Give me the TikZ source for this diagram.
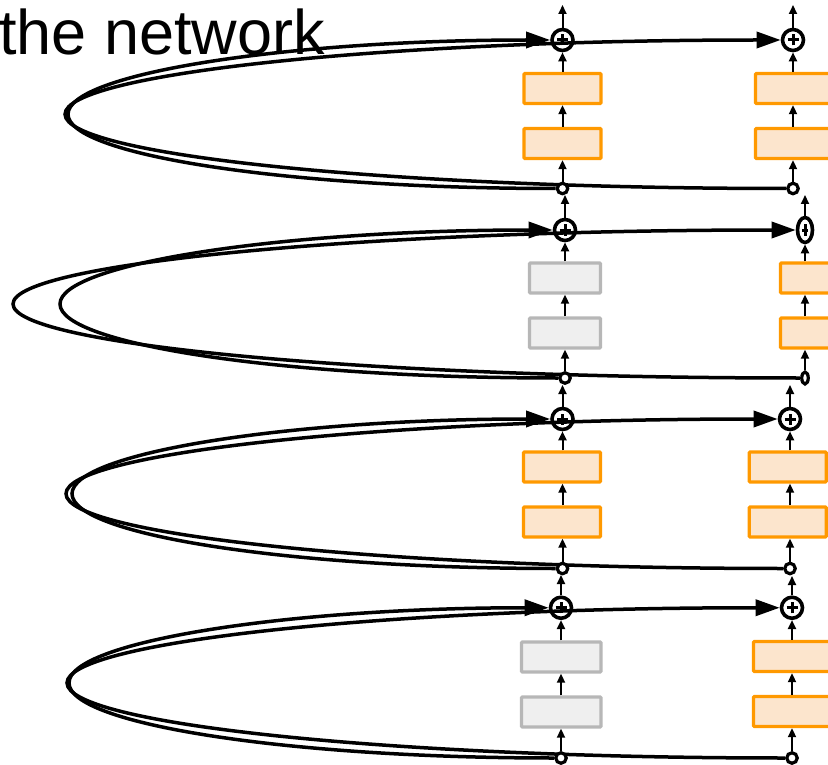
\documentclass[tikz,border=0pt]{standalone}
\usepackage{fontspec}
\setmainfont{Liberation Sans}
\usetikzlibrary{arrows.meta,shapes.geometric}
\definecolor{orangeline}{HTML}{FF9900}
\definecolor{orangefill}{HTML}{FCE5CD}
\definecolor{grayline}{HTML}{B7B7B7}
\definecolor{grayfill}{HTML}{EFEFEF}
\pgfdeclarelayer{bg}
\pgfsetlayers{bg,main}
\tikzset{
  obox/.style={draw=orangeline, fill=orangefill, line width=3.4pt, minimum width=77pt, minimum height=30pt, inner sep=0pt, rounded corners=1pt},
  gbox/.style={draw=grayline, fill=grayfill, line width=3.4pt, minimum width=71pt, minimum height=30pt, inner sep=0pt, rounded corners=1pt},
  plusnode/.style={circle, draw, line width=3.6pt, minimum size=21pt, inner sep=0pt,
    path picture={\draw[line width=3pt] ([xshift=-5.5pt]path picture bounding box.center) -- ([xshift=5.5pt]path picture bounding box.center);
                  \draw[line width=3pt] ([yshift=-5.5pt]path picture bounding box.center) -- ([yshift=5.5pt]path picture bounding box.center);}},
  plusell/.style={ellipse, draw, line width=3.6pt, minimum width=15pt, minimum height=25pt, inner sep=0pt,
    path picture={\draw[line width=3pt] ([xshift=-3pt]path picture bounding box.center) -- ([xshift=3pt]path picture bounding box.center);
                  \draw[line width=3pt] ([yshift=-5.5pt]path picture bounding box.center) -- ([yshift=5.5pt]path picture bounding box.center);}},
  tap/.style={circle, draw, fill=white, line width=3.2pt, minimum size=10.5pt, inner sep=0pt},
  tapell/.style={ellipse, draw, fill=white, line width=3.2pt, minimum width=6.5pt, minimum height=12pt, inner sep=0pt},
  flow/.style={-{Triangle[length=9pt,width=8pt]}, line width=2pt},
  skiparrow/.style={-{Triangle[length=24pt,width=16pt]}, line width=3.5pt},
}
\begin{document}
\begin{tikzpicture}[x=1pt,y=-1pt]
\useasboundingbox (0,0) rectangle (828,765);

\node[anchor=base west, inner sep=0pt, font=\fontsize{63}{63}\selectfont] (title) at (-1,55) {the network};

% ---------------- block 1 ----------------
\node[plusnode] (p11) at (562.5,40) {};
\node[obox] (u11) at (562.5,88.5) {};
\node[obox] (l11) at (562.5,143.5) {};
\node[tap] (b11) at (562.5,188.5) {};
\node[plusnode] (p12) at (793,40) {};
\node[obox] (u12) at (794,88.5) {};
\node[obox] (l12) at (794,143.5) {};
\node[tap] (b12) at (793,188.5) {};
\coordinate (t11) at (562.5,5);
\coordinate (t12) at (793,5);
\coordinate (L11) at (68,114.25);
\coordinate (L12) at (65,114.25);

% ---------------- block 2 ----------------
\node[plusnode] (p21) at (565,230) {};
\node[gbox] (u21) at (565,278) {};
\node[gbox] (l21) at (565,333) {};
\node[tap] (b21) at (565,378) {};
\node[plusell] (p22) at (805,230) {};
\node[obox] (u22) at (819,278) {};
\node[obox] (l22) at (819,333) {};
\node[tapell] (b22) at (805,378) {};
\coordinate (t21) at (565,195);
\coordinate (t22) at (805,195);
\coordinate (L21) at (60,304);
\coordinate (L22) at (13,304);

% ---------------- block 3 ----------------
\node[plusnode] (p31) at (562.5,419) {};
\node[obox] (u31) at (562,467) {};
\node[obox] (l31) at (562,522) {};
\node[tap] (b31) at (562.5,568.5) {};
\node[plusnode] (p32) at (790,419) {};
\node[obox] (u32) at (787.7,467) {};
\node[obox] (l32) at (787.7,522) {};
\node[tap] (b32) at (790,568.5) {};
\coordinate (t31) at (562.5,385);
\coordinate (t32) at (790,385);
\coordinate (L31) at (72,493.75);
\coordinate (L32) at (66,493.75);

% ---------------- block 4 ----------------
\node[plusnode] (p41) at (561,607.75) {};
\node[gbox, minimum width=79.5pt] (u41) at (561.25,657) {};
\node[gbox, minimum width=79.5pt] (l41) at (561.25,712) {};
\node[tap] (b41) at (561,758) {};
\node[plusnode] (p42) at (792,607.75) {};
\node[obox] (u42) at (792,656.5) {};
\node[obox] (l42) at (792,711.5) {};
\node[tap] (b42) at (792,758) {};
\coordinate (t41) at (561,575);
\coordinate (t42) at (792,576);
\coordinate (L41) at (69,682.9);
\coordinate (L42) at (67,682.9);

% ---------------- vertical flow ----------------
\foreach \b/\c in {1/1,1/2,2/1,2/2,3/1,3/2,4/1,4/2}{
  \draw[flow] (b\b\c.north) -- (b\b\c.north |- l\b\c.south);
  \draw[flow] (b\b\c.north |- l\b\c.north) -- (b\b\c.north |- u\b\c.south);
  \draw[flow] (b\b\c.north |- u\b\c.north) -- (p\b\c.south);
  \draw[flow] (p\b\c.north) -- (t\b\c);
}

% ---------------- skip loops ----------------
\begin{pgfonlayer}{bg}
\draw[skiparrow] (b11) .. controls (289.4,188.5) and (68,155.25) .. (L11)
                 .. controls (68,73.25) and (289.4,40) .. (p11);
\draw[skiparrow] (b12) .. controls (391,188.5) and (65,155.25) .. (L12)
                 .. controls (65,73.25) and (391,40) .. (p12);
\draw[skiparrow] (b21) .. controls (286,378) and (60,344.9) .. (L21)
                 .. controls (60,263.1) and (286,230) .. (p21);
\draw[skiparrow] (b22) .. controls (368,378) and (13,344.9) .. (L22)
                 .. controls (13,263.1) and (368,230) .. (p22);
\draw[skiparrow] (b31) .. controls (291.6,568.5) and (72,535.05) .. (L31)
                 .. controls (72,452.45) and (291.6,419) .. (p31);
\draw[skiparrow] (b32) .. controls (390.1,568.5) and (66,535.05) .. (L32)
                 .. controls (66,452.45) and (390.1,419) .. (p32);
\draw[skiparrow] (b41) .. controls (289.3,758) and (69,724.4) .. (L41)
                 .. controls (69,641.4) and (289.3,607.75) .. (p41);
\draw[skiparrow] (b42) .. controls (391.6,758) and (67,724.4) .. (L42)
                 .. controls (67,641.4) and (391.6,607.75) .. (p42);
\end{pgfonlayer}
\end{tikzpicture}
\end{document}
